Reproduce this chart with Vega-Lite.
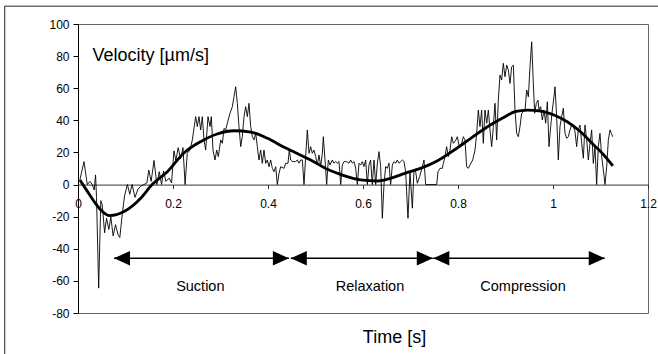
{
  "$schema": "https://vega.github.io/schema/vega-lite/v6.json",
  "width": 570,
  "height": 289,
  "autosize": {"type": "none"},
  "padding": {"left": 78, "top": 24, "right": 10, "bottom": 41},
  "background": "white",
  "view": {"stroke": "#666666", "strokeWidth": 1},
  "config": {
    "font": "Liberation Sans",
    "view": {"stroke": "#666666", "strokeWidth": 1},
    "axis": {"grid": false, "labelFont": "Liberation Sans", "titleFont": "Liberation Sans", "labelColor": "black", "titleColor": "black"}
  },
  "datasets": {
    "smooth": [
      {"t": 0.004, "v": 2.9}, {"t": 0.02, "v": -4.4}, {"t": 0.034, "v": -10.6}, {"t": 0.048, "v": -15.8},
      {"t": 0.067, "v": -19.3}, {"t": 0.097, "v": -16.8}, {"t": 0.132, "v": -8.5}, {"t": 0.156, "v": 0},
      {"t": 0.188, "v": 8}, {"t": 0.223, "v": 19.7}, {"t": 0.258, "v": 26.7}, {"t": 0.293, "v": 31.5},
      {"t": 0.328, "v": 33.5}, {"t": 0.364, "v": 32.7}, {"t": 0.399, "v": 28.8}, {"t": 0.434, "v": 23.2},
      {"t": 0.457, "v": 20}, {"t": 0.49, "v": 15.3}, {"t": 0.525, "v": 9.5}, {"t": 0.56, "v": 5.6},
      {"t": 0.595, "v": 2.9}, {"t": 0.63, "v": 2.2}, {"t": 0.658, "v": 3.9}, {"t": 0.688, "v": 7},
      {"t": 0.721, "v": 10.1}, {"t": 0.756, "v": 14.7}, {"t": 0.792, "v": 21.5}, {"t": 0.827, "v": 28.8},
      {"t": 0.862, "v": 36}, {"t": 0.897, "v": 41.9}, {"t": 0.92, "v": 45.4}, {"t": 0.946, "v": 46.4},
      {"t": 0.974, "v": 45.8}, {"t": 1.002, "v": 43.3}, {"t": 1.03, "v": 39.1}, {"t": 1.058, "v": 32.9},
      {"t": 1.086, "v": 24.6}, {"t": 1.107, "v": 18.4}, {"t": 1.126, "v": 11.6}
    ],
    "raw": [
      {"t": 0.004, "v": 3}, {"t": 0.0126, "v": 14.3}, {"t": 0.0196, "v": 0}, {"t": 0.025, "v": 2},
      {"t": 0.03, "v": 0}, {"t": 0.034, "v": -3.4}, {"t": 0.037, "v": 6}, {"t": 0.039, "v": -8},
      {"t": 0.0435, "v": -64.5}, {"t": 0.048, "v": -10}, {"t": 0.051, "v": -12.7}, {"t": 0.056, "v": -30},
      {"t": 0.06, "v": -21}, {"t": 0.065, "v": -28}, {"t": 0.069, "v": -20}, {"t": 0.074, "v": -32},
      {"t": 0.079, "v": -25}, {"t": 0.084, "v": -31}, {"t": 0.088, "v": -33}, {"t": 0.093, "v": -19},
      {"t": 0.098, "v": -7}, {"t": 0.104, "v": 0}, {"t": 0.109, "v": -6}, {"t": 0.114, "v": 0},
      {"t": 0.12, "v": -8}, {"t": 0.126, "v": -3}, {"t": 0.132, "v": -1}, {"t": 0.139, "v": 0},
      {"t": 0.145, "v": 1}, {"t": 0.149, "v": 9}, {"t": 0.154, "v": 2}, {"t": 0.16, "v": 15},
      {"t": 0.166, "v": 0}, {"t": 0.171, "v": 8}, {"t": 0.176, "v": 0}, {"t": 0.18, "v": 8.5},
      {"t": 0.185, "v": 2}, {"t": 0.192, "v": 4}, {"t": 0.197, "v": 1}, {"t": 0.202, "v": 21},
      {"t": 0.206, "v": 15}, {"t": 0.211, "v": 23}, {"t": 0.216, "v": 16}, {"t": 0.221, "v": 23},
      {"t": 0.2255, "v": 0},
      {"t": 0.23, "v": 19.5}, {"t": 0.2358, "v": 21.5}, {"t": 0.2407, "v": 27.8}, {"t": 0.2477, "v": 42.3},
      {"t": 0.2512, "v": 36.1}, {"t": 0.2547, "v": 42.3}, {"t": 0.2583, "v": 34}, {"t": 0.2617, "v": 42.3},
      {"t": 0.2653, "v": 27.8}, {"t": 0.2688, "v": 21.5}, {"t": 0.2737, "v": 42.3}, {"t": 0.2779, "v": 36.1},
      {"t": 0.2807, "v": 42.3}, {"t": 0.2842, "v": 21.5}, {"t": 0.2884, "v": 15.3}, {"t": 0.292, "v": 21.5},
      {"t": 0.2954, "v": 17.4}, {"t": 0.3004, "v": 27.8}, {"t": 0.3039, "v": 25.7}, {"t": 0.3074, "v": 35},
      {"t": 0.3109, "v": 34}, {"t": 0.3144, "v": 38.2}, {"t": 0.32, "v": 44.4}, {"t": 0.3249, "v": 48.5},
      {"t": 0.3284, "v": 54.7}, {"t": 0.332, "v": 60.9}, {"t": 0.3354, "v": 50.6}, {"t": 0.3389, "v": 36.1},
      {"t": 0.3425, "v": 23.6}, {"t": 0.3459, "v": 29.9}, {"t": 0.3495, "v": 42.3}, {"t": 0.353, "v": 48.5},
      {"t": 0.3565, "v": 42.3}, {"t": 0.36, "v": 50.6}, {"t": 0.3635, "v": 36.1}, {"t": 0.367, "v": 29.9},
      {"t": 0.3705, "v": 27.8}, {"t": 0.3741, "v": 32}, {"t": 0.3775, "v": 23.6}, {"t": 0.381, "v": 15.3},
      {"t": 0.3846, "v": 21.5}, {"t": 0.388, "v": 13.2}, {"t": 0.3916, "v": 21.5}, {"t": 0.3951, "v": 13.2},
      {"t": 0.3986, "v": 15.3}, {"t": 0.4021, "v": 11.1}, {"t": 0.4056, "v": 15.3}, {"t": 0.4091, "v": 10.1},
      {"t": 0.4126, "v": 8}, {"t": 0.4162, "v": 11.1}, {"t": 0.4196, "v": 0}, {"t": 0.4232, "v": 7},
      {"t": 0.4267, "v": 11.1}, {"t": 0.4337, "v": 10.1}, {"t": 0.4372, "v": 13.2}, {"t": 0.4421, "v": 13.2},
      {"t": 0.4449, "v": 21.5}, {"t": 0.4478, "v": 15.3}, {"t": 0.452, "v": 14.3},
      {"t": 0.4582, "v": 14.3}, {"t": 0.4618, "v": 15.3}, {"t": 0.4653, "v": 13.3}, {"t": 0.4688, "v": 15.3},
      {"t": 0.4723, "v": 15.3}, {"t": 0.4758, "v": 0}, {"t": 0.4793, "v": 17.4}, {"t": 0.4828, "v": 34},
      {"t": 0.4863, "v": 19.5}, {"t": 0.4898, "v": 23.6}, {"t": 0.4933, "v": 19.5}, {"t": 0.4968, "v": 21.5},
      {"t": 0.5004, "v": 17.4}, {"t": 0.5039, "v": 12.2}, {"t": 0.5074, "v": 18.4}, {"t": 0.5109, "v": 11.2},
      {"t": 0.5144, "v": 19.5}, {"t": 0.5165, "v": 29.8}, {"t": 0.52, "v": 15.3}, {"t": 0.5235, "v": 0},
      {"t": 0.527, "v": 15.3}, {"t": 0.5305, "v": 12.2}, {"t": 0.5354, "v": 15.3}, {"t": 0.5389, "v": 13.3},
      {"t": 0.5425, "v": 14.3}, {"t": 0.546, "v": 13.3}, {"t": 0.5495, "v": 14.3}, {"t": 0.553, "v": 0},
      {"t": 0.5565, "v": 12.2}, {"t": 0.56, "v": 14.3}, {"t": 0.5656, "v": 14.3}, {"t": 0.5705, "v": 13.3},
      {"t": 0.574, "v": 15.3}, {"t": 0.5775, "v": 13.3}, {"t": 0.5811, "v": 14.3}, {"t": 0.5846, "v": 10.1},
      {"t": 0.5881, "v": 0}, {"t": 0.5916, "v": 13.3}, {"t": 0.5951, "v": 12.2}, {"t": 0.5986, "v": 14.3},
      {"t": 0.6021, "v": 11.2}, {"t": 0.6056, "v": 15.3}, {"t": 0.6091, "v": 0}, {"t": 0.6126, "v": 12.2},
      {"t": 0.6161, "v": 15.3}, {"t": 0.6196, "v": 0}, {"t": 0.6232, "v": 15.3}, {"t": 0.6267, "v": 0},
      {"t": 0.6302, "v": 13.3}, {"t": 0.6337, "v": 20.5}, {"t": 0.6372, "v": 11.2}, {"t": 0.6407, "v": -21},
      {"t": 0.6442, "v": 0}, {"t": 0.6477, "v": 11.2}, {"t": 0.6512, "v": 10.1}, {"t": 0.6547, "v": 13.3},
      {"t": 0.6582, "v": 0}, {"t": 0.6618, "v": 12.2}, {"t": 0.6653, "v": 14.3}, {"t": 0.6688, "v": 13.3},
      {"t": 0.6723, "v": 15.3}, {"t": 0.6758, "v": 13.3}, {"t": 0.6793, "v": 14.3}, {"t": 0.6828, "v": 15.3},
      {"t": 0.6863, "v": 14.3}, {"t": 0.6898, "v": 8}, {"t": 0.6947, "v": -21}, {"t": 0.6989, "v": 8},
      {"t": 0.7039, "v": -14.7}, {"t": 0.7074, "v": 9.1}, {"t": 0.7109, "v": 8}, {"t": 0.7144, "v": 0.8},
      {"t": 0.7193, "v": 5}, {"t": 0.7249, "v": 11.1}, {"t": 0.7284, "v": 15.3}, {"t": 0.7319, "v": 0},
      {"t": 0.7551, "v": 0}, {"t": 0.7579, "v": 8}, {"t": 0.7621, "v": 10.1}, {"t": 0.767, "v": 10.1},
      {"t": 0.7691, "v": 13.2}, {"t": 0.7726, "v": 17.4}, {"t": 0.7761, "v": 23.6}, {"t": 0.7796, "v": 17.4},
      {"t": 0.7832, "v": 21.5}, {"t": 0.7867, "v": 29.8}, {"t": 0.7902, "v": 25.7}, {"t": 0.7958, "v": 27.8},
      {"t": 0.7986, "v": 29.8}, {"t": 0.8028, "v": 23.6}, {"t": 0.8077, "v": 25.7}, {"t": 0.8112, "v": 29.8},
      {"t": 0.8147, "v": 27.8}, {"t": 0.8182, "v": 11.1}, {"t": 0.8218, "v": 10.1}, {"t": 0.8253, "v": 12.2},
      {"t": 0.8309, "v": 15.3}, {"t": 0.8358, "v": 21.5}, {"t": 0.8393, "v": 31.9}, {"t": 0.8428, "v": 46.4},
      {"t": 0.8463, "v": 36.1}, {"t": 0.8498, "v": 46.4}, {"t": 0.8533, "v": 25.7}, {"t": 0.8568, "v": 46.4},
      {"t": 0.8604, "v": 38.2}, {"t": 0.8639, "v": 46.4}, {"t": 0.8674, "v": 34}, {"t": 0.8709, "v": 23.6},
      {"t": 0.8744, "v": 36.1}, {"t": 0.8779, "v": 50.6}, {"t": 0.8814, "v": 27.8}, {"t": 0.8849, "v": 52.6},
      {"t": 0.8884, "v": 68.2}, {"t": 0.8919, "v": 65.1}, {"t": 0.8954, "v": 75.5}, {"t": 0.8989, "v": 67.1},
      {"t": 0.9025, "v": 74.4}, {"t": 0.906, "v": 71.3}, {"t": 0.9095, "v": 63}, {"t": 0.913, "v": 73.4},
      {"t": 0.9165, "v": 74.4}, {"t": 0.92, "v": 46.4}, {"t": 0.9235, "v": 31.9}, {"t": 0.927, "v": 29.8},
      {"t": 0.9305, "v": 36.1}, {"t": 0.934, "v": 44.4}, {"t": 0.9375, "v": 45.4}, {"t": 0.9411, "v": 46.4},
      {"t": 0.9446, "v": 58.9}, {"t": 0.9481, "v": 54.7}, {"t": 0.9516, "v": 73.4}, {"t": 0.9551, "v": 88.9},
      {"t": 0.9586, "v": 63}, {"t": 0.9614, "v": 44.4}, {"t": 0.9649, "v": 50.6}, {"t": 0.9684, "v": 52.6},
      {"t": 0.9705, "v": 46.4}, {"t": 0.974, "v": 48.5}, {"t": 0.9775, "v": 40.2}, {"t": 0.9811, "v": 46.4},
      {"t": 0.9846, "v": 38.2}, {"t": 0.9881, "v": 51.6}, {"t": 0.9916, "v": 23.6}, {"t": 0.9951, "v": 36.1},
      {"t": 0.9986, "v": 46.4}, {"t": 1.0021, "v": 54.7}, {"t": 1.0042, "v": 60.9}, {"t": 1.0077, "v": 42.3},
      {"t": 1.0112, "v": 15.3}, {"t": 1.0147, "v": 36.1}, {"t": 1.0182, "v": 42.3}, {"t": 1.0218, "v": 47.5},
      {"t": 1.0253, "v": 31.9}, {"t": 1.0288, "v": 28.8}, {"t": 1.0323, "v": 29.8}, {"t": 1.0358, "v": 34},
      {"t": 1.0393, "v": 37.1}, {"t": 1.0428, "v": 36.1}, {"t": 1.0463, "v": 33}, {"t": 1.0498, "v": 23.6},
      {"t": 1.0533, "v": 34}, {"t": 1.0568, "v": 37.1}, {"t": 1.0604, "v": 25.7}, {"t": 1.0639, "v": 16.4},
      {"t": 1.0674, "v": 37.1}, {"t": 1.0709, "v": 27.8}, {"t": 1.0744, "v": 15.3}, {"t": 1.0779, "v": 25.7},
      {"t": 1.0814, "v": 34}, {"t": 1.0849, "v": 13.2}, {"t": 1.0884, "v": 23.6}, {"t": 1.0919, "v": 0},
      {"t": 1.0954, "v": 23.6}, {"t": 1.0989, "v": 31.9}, {"t": 1.1025, "v": 17.4}, {"t": 1.106, "v": 9.1},
      {"t": 1.1095, "v": 0}, {"t": 1.113, "v": 11.1}, {"t": 1.1165, "v": 27.8}, {"t": 1.12, "v": 34},
      {"t": 1.1228, "v": 31.9}, {"t": 1.1256, "v": 29.8}
    ],
    "phases": [
      {"phase": "Suction", "start": 0.0758, "end": 0.444, "mid": 0.2575},
      {"phase": "Relaxation", "start": 0.448, "end": 0.747, "mid": 0.6147},
      {"phase": "Compression", "start": 0.748, "end": 1.109, "mid": 0.9368}
    ]
  },
  "layer": [
    {
      "data": {"name": "raw"},
      "mark": {"type": "line", "color": "black", "strokeWidth": 0.9, "interpolate": "linear"},
      "encoding": {
        "x": {
          "field": "t", "type": "quantitative",
          "scale": {"domain": [0, 1.2], "nice": false, "zero": false},
          "axis": {
            "values": [0, 0.2, 0.4, 0.6, 0.8, 1, 1.2],
            "format": "~g",
            "offset": -128.4,
            "domainColor": "#333333",
            "tickColor": "#333333",
            "tickSize": 4,
            "labelFontSize": 12,
            "labelPadding": 10,
            "labelFlush": false,
            "labelOverlap": false,
            "title": "Time [s]",
            "titleFontSize": 18,
            "titleFontWeight": "normal",
            "titleX": 316,
            "titleY": 158,
            "titleAlign": "center",
            "titleBaseline": "alphabetic"
          }
        },
        "y": {
          "field": "v", "type": "quantitative",
          "scale": {"domain": [-80, 100], "nice": false, "zero": false},
          "axis": {
            "values": [-80, -60, -40, -20, 0, 20, 40, 60, 80, 100],
            "tickCount": 10,
            "labelExpr": "'' + datum.value",
            "domainColor": "black",
            "tickColor": "black",
            "tickSize": 5,
            "labelFontSize": 12,
            "labelPadding": 4,
            "labelOverlap": false,
            "title": "Velocity [µm/s]",
            "titleFontSize": 18,
            "titleFontWeight": "normal",
            "titleAngle": 0,
            "titleX": 14,
            "titleY": 36,
            "titleAlign": "left",
            "titleBaseline": "alphabetic"
          }
        }
      }
    },
    {
      "data": {"name": "smooth"},
      "mark": {"type": "line", "color": "black", "strokeWidth": 2.8, "interpolate": "monotone"},
      "encoding": {
        "x": {"field": "t", "type": "quantitative"},
        "y": {"field": "v", "type": "quantitative"}
      }
    },
    {
      "data": {"name": "phases"},
      "mark": {"type": "rule", "color": "black", "strokeWidth": 1.3},
      "encoding": {
        "x": {"field": "start", "type": "quantitative"},
        "x2": {"field": "end"},
        "y": {"datum": -45.9, "type": "quantitative"}
      }
    },
    {
      "data": {"name": "phases"},
      "mark": {"type": "point", "shape": "M0,0L2,-0.9L2,0.9Z", "filled": true, "color": "black", "opacity": 1, "size": 256, "strokeWidth": 0},
      "encoding": {
        "x": {"field": "start", "type": "quantitative"},
        "y": {"datum": -45.9, "type": "quantitative"}
      }
    },
    {
      "data": {"name": "phases"},
      "mark": {"type": "point", "shape": "M0,0L-2,-0.9L-2,0.9Z", "filled": true, "color": "black", "opacity": 1, "size": 256, "strokeWidth": 0},
      "encoding": {
        "x": {"field": "end", "type": "quantitative"},
        "y": {"datum": -45.9, "type": "quantitative"}
      }
    },
    {
      "data": {"name": "phases"},
      "mark": {"type": "text", "fontSize": 14.5, "color": "black", "align": "center", "baseline": "alphabetic", "font": "Liberation Sans"},
      "encoding": {
        "x": {"field": "mid", "type": "quantitative"},
        "y": {"datum": -66.6, "type": "quantitative"},
        "text": {"field": "phase"}
      }
    },
    {
      "data": {"values": [{}]},
      "mark": {"type": "rect", "fill": null, "fillOpacity": 0, "stroke": "#222222", "strokeWidth": 1, "clip": false},
      "encoding": {
        "x": {"datum": -0.1543, "type": "quantitative"},
        "x2": {"datum": 1.35},
        "y": {"datum": 111.1, "type": "quantitative"},
        "y2": {"datum": -130}
      }
    }
  ]
}
